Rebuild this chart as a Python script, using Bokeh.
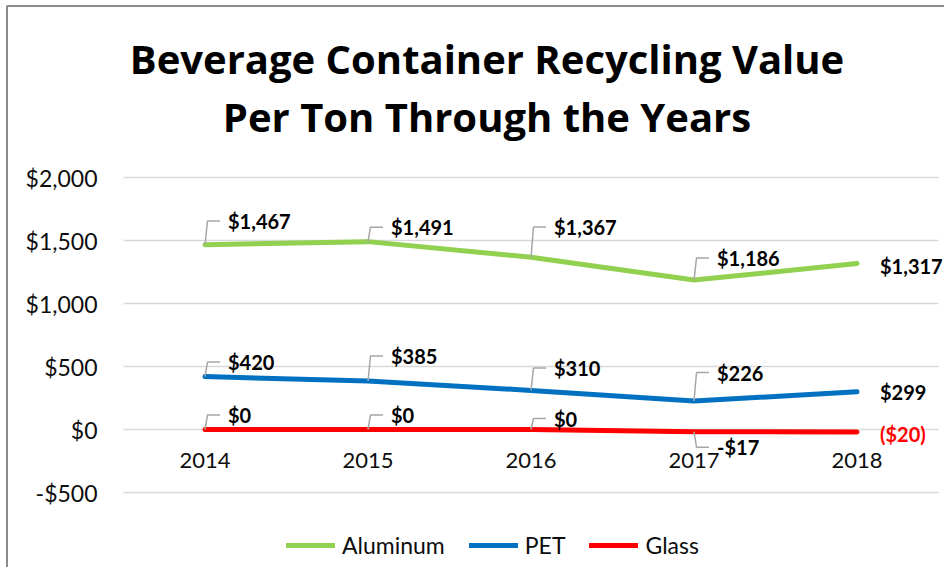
from bokeh.plotting import figure
from bokeh.models import (Range1d, NumeralTickFormatter, Label, Legend, LegendItem,
                          ColumnDataSource, FixedTicker)
from bokeh.embed import file_html
from bokeh.resources import INLINE
from bokeh.core.properties import value

# ---------------- data ----------------
years = ["2014", "2015", "2016", "2017", "2018"]
aluminum = [1467, 1491, 1367, 1186, 1317]
pet = [420, 385, 310, 226, 299]
glass = [0, 0, 0, -17, -20]

series_names = ["Aluminum", "PET", "Glass"]
y_ticks = [-500, 0, 500, 1000, 1500, 2000]
title_lines = ["Beverage Container Recycling Value", "Per Ton Through the Years"]

# ---------------- styles / layout ----------------
colors = ["#92D050", "#0070C0", "#FF0000"]
FONT = "Lato"
TITLE_FONT = "Open Sans"
TXT = "#0d0d0d"
# vertical offset (px, + = up) of every data label from its point
label_dy = {
    "Aluminum": [23.6, 14.5, 30.3, 22.0, -2.0],
    "PET": [14.5, 25.0, 22.5, 28.5, 0.0],
    "Glass": [14.5, 14.5, 11.0, -15.5, -1.5],
}

W, H = 944, 567
PLOT_L, PLOT_R = 123, 938          # plot area (px) holding the 5 categories
PLOT_T, PLOT_B = 177, 492          # plot area (px) for y from 2000 .. -500
Y_MIN, Y_MAX = y_ticks[0], y_ticks[-1]
n = len(years)
sx_px = (PLOT_R - PLOT_L) / n                  # px per category
sy_px = (PLOT_B - PLOT_T) / (Y_MAX - Y_MIN)    # px per unit
x_px0 = PLOT_L + sx_px / 2                     # px of category 0
y_px0 = PLOT_B + Y_MIN * sy_px                 # px of value 0


def dxp(px):   # canvas px -> x data
    return (px - x_px0) / sx_px


def dyp(py):   # canvas px -> y data
    return (y_px0 - py) / sy_px


def money(v):
    s = "${:,.0f}".format(abs(v))
    return "-" + s if v < 0 else s


def accounting(v):
    s = "${:,.0f}".format(abs(v))
    return "(" + s + ")" if v < 0 else s


p = figure(width=W, height=H, x_range=Range1d(dxp(0), dxp(W)), y_range=Range1d(dyp(H), dyp(0)),
           output_backend="svg", toolbar_location=None, min_border=0,
           background_fill_color="white", border_fill_color="white")
p.outline_line_color = None

# chart border (left and top)
p.segment(x0=[dxp(6.5), dxp(6)], y0=[dyp(5.5), dyp(5.5)], x1=[dxp(6.5), dxp(W)], y1=[dyp(H), dyp(5.5)],
          line_color="#8c8c8c", line_width=2)

# grid
g = p.ygrid[0]
g.ticker = FixedTicker(ticks=y_ticks)
p.xgrid.grid_line_color = None
if "cross_bounds" in g.properties():
    g.cross_bounds = (-0.5, n - 0.5)
    g.grid_line_color = "#D9D9D9"
    g.grid_line_width = 1.5
else:
    g.grid_line_color = None
    p.segment(x0=[-0.5] * len(y_ticks), y0=y_ticks, x1=[n - 0.5] * len(y_ticks), y1=y_ticks,
              line_color="#D9D9D9", line_width=1.5)

# y axis (at the left edge of the plot area)
p.yaxis.fixed_location = -0.5
p.yaxis.ticker = FixedTicker(ticks=y_ticks)
p.yaxis.formatter = NumeralTickFormatter(format="$0,0")
p.yaxis.axis_line_color = None
p.yaxis.major_tick_line_color = None
p.yaxis.minor_tick_line_color = None
p.yaxis.major_tick_out = 0
p.yaxis.major_tick_in = 0
p.yaxis.major_label_standoff = 26
p.yaxis.major_label_text_font = FONT
p.yaxis.major_label_text_font_size = "23px"
p.yaxis.major_label_text_color = TXT

# x axis (crosses at 0)
p.xaxis.fixed_location = 0
p.xaxis.ticker = FixedTicker(ticks=list(range(n)))
p.xaxis.major_label_overrides = {i: y for i, y in enumerate(years)}
p.xaxis.axis_line_color = None
p.xaxis.major_tick_line_color = None
p.xaxis.minor_tick_line_color = None
p.xaxis.major_tick_out = 0
p.xaxis.major_tick_in = 0
p.xaxis.major_label_standoff = 23
p.xaxis.major_label_text_font = FONT
p.xaxis.major_label_text_font_size = "22px"
p.xaxis.major_label_text_color = TXT

xs = list(range(n))
all_series = [aluminum, pet, glass]
renderers = []
for name, vals, col in zip(series_names, all_series, colors):
    r = p.line(xs, vals, line_color=col, line_width=5, line_cap="round", line_join="round")
    renderers.append(r)

# leader lines and data labels
ux, uy = 1 / sx_px, 1 / sy_px
lead_xs, lead_ys = [], []
lx, ly, lt, lc, lxo, lyo = [], [], [], [], [], []
for name, vals in zip(series_names, all_series):
    dys = label_dy[name]
    for i, v in enumerate(vals):
        dy = dys[i]
        last = i == len(vals) - 1
        if not last:
            top = v + dy * uy
            lead_xs.append([i, i + 2.5 * ux, i + 15 * ux])
            lead_ys.append([v, top, top])
        lx.append(i)
        ly.append(v)
        if name == "Glass" and last:
            lt.append(accounting(v))
            lc.append("#FF0000")
        else:
            lt.append(money(v))
            lc.append("#000000")
        lxo.append(23)
        lyo.append(-dy)

p.multi_line(lead_xs, lead_ys, line_color="#A6A6A6", line_width=1.5)
src = ColumnDataSource(dict(x=lx, y=ly, text=lt, color=lc, xo=lxo, yo=lyo))
p.text(x="x", y="y", text="text", source=src, text_color="color",
       x_offset="xo", y_offset="yo", text_align="left", text_baseline="middle",
       text_font=value(FONT), text_font_style="bold", text_font_size=value("20px"))

# title (two centred lines)
for line_txt, mid in zip(title_lines, [57.5, 115.5]):
    p.add_layout(Label(x=dxp(486.5), y=dyp(mid), text=line_txt,
                       text_align="center", text_baseline="middle", text_font=TITLE_FONT,
                       text_font_style="bold", text_font_size="40px", text_color="black"))

# legend
legend = Legend(items=[LegendItem(label=nm, renderers=[r]) for nm, r in zip(series_names, renderers)],
                orientation="horizontal", location=(286, 8),
                glyph_width=49, glyph_height=20, label_standoff=7, spacing=24,
                padding=0, margin=0, border_line_color=None, background_fill_alpha=0,
                label_text_font=FONT, label_text_font_size="23px", label_text_color=TXT)
p.add_layout(legend)

open("out.html", "w").write(file_html(p, INLINE))
